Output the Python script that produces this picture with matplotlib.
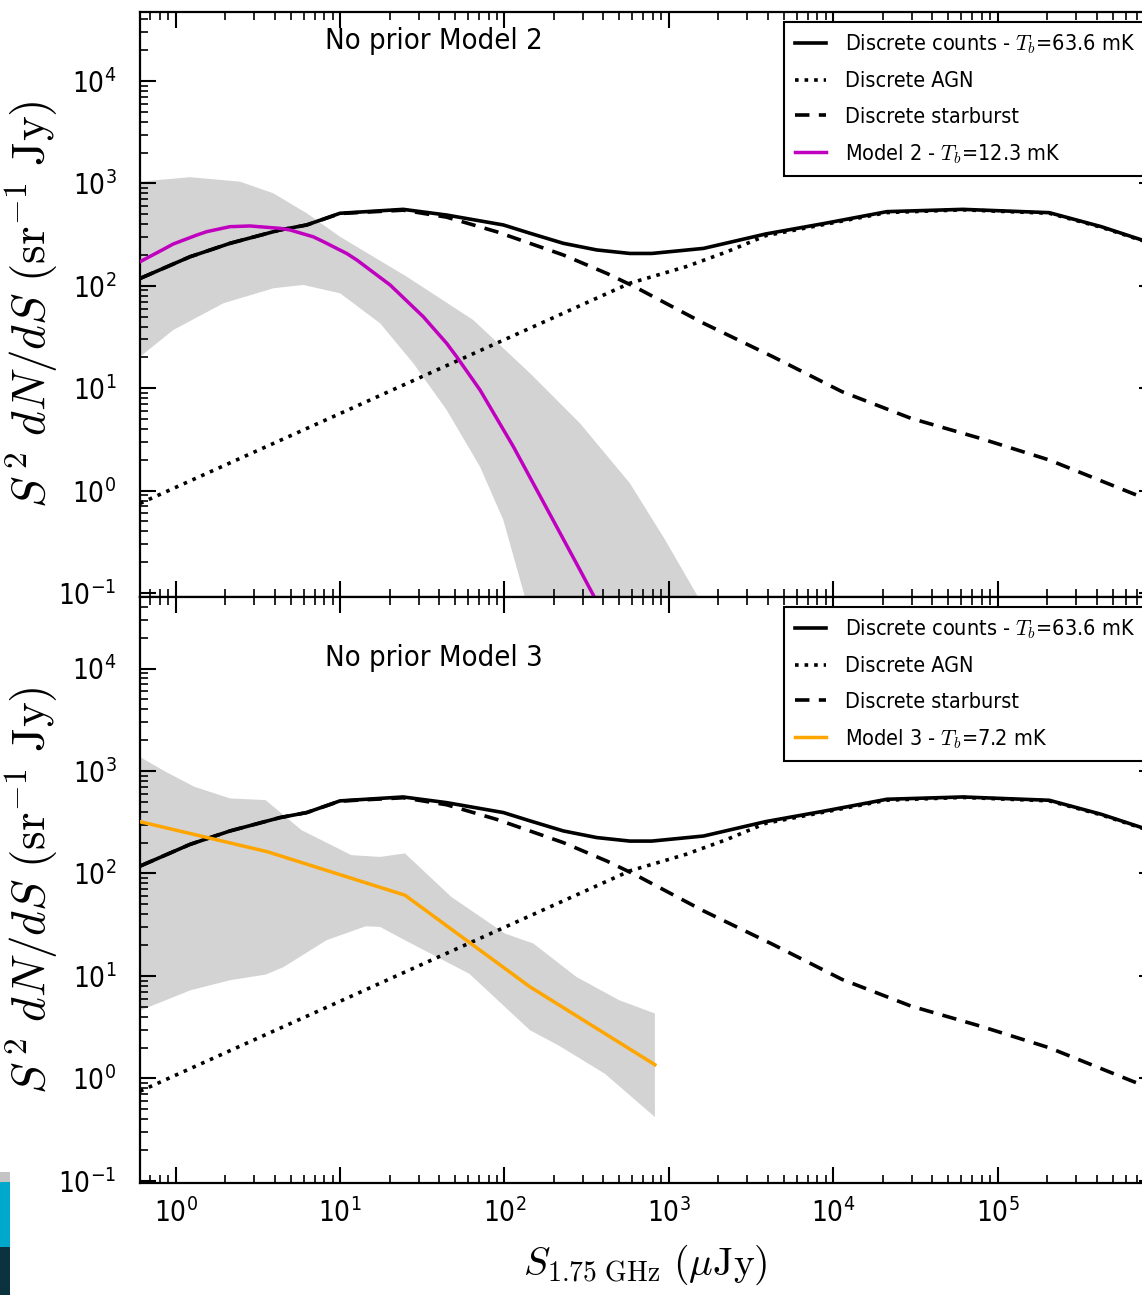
import numpy as np
import matplotlib
matplotlib.use('Agg')
import matplotlib.pyplot as plt
from matplotlib.patches import Rectangle

plt.rcParams['font.family'] = ['DejaVu Sans']
plt.rcParams['font.stretch'] = 'condensed'
plt.rcParams['mathtext.fontset'] = 'cm'
plt.rcParams['axes.unicode_minus'] = False

# ---------------- data ----------------
# Discrete counts (total)
s_counts = [0.607, 1.22, 2.14, 4.31, 6.27, 9.98, 24.2, 44.5, 98.4, 143, 228, 364, 579,
            787, 1626, 3890, 8870, 21200, 61400, 206000, 427000, 755000, 910000]
y_counts = [118, 192, 260, 351, 393, 511, 558, 491, 393, 326, 260, 224, 207,
            207, 232, 321, 407, 530, 558, 518, 378, 280, 255]

# Discrete AGN
s_agn = [0.607, 3.16, 10.0, 31.6, 100, 316, 579, 1275, 2240, 3890, 8870, 21200, 61400,
         206000, 427000, 755000, 910000]
y_agn = [0.75, 2.47, 5.66, 13.0, 29.8, 68.4, 106, 154, 214, 309, 398, 519, 552,
         511, 373, 277, 251]

# Discrete starburst
s_sb = [0.607, 1.22, 2.14, 4.31, 6.27, 9.98, 24.2, 44.5, 89.7, 228, 420, 618, 1630,
        4290, 11300, 29700, 78300, 206000, 659000, 910000]
y_sb = [118, 192, 260, 351, 393, 508, 548, 468, 337, 200, 132, 98, 43,
        20.3, 9.25, 5.08, 3.24, 1.99, 0.94, 0.77]

# Model 2 (no prior) and its uncertainty band
s_m2 = [0.607, 0.841, 0.966, 1.343, 1.545, 2.138, 2.831, 4.305, 4.955, 6.87, 7.907,
        10.96, 12.62, 20.14, 32.06, 44.5, 51.17, 71.0, 113.2, 180.7, 287.7, 352, 398]
y_m2 = [172, 227, 256, 313, 338, 378, 384, 364, 351, 301, 270,
        207, 179, 102, 49.9, 27.4, 20.3, 9.6, 2.69, 0.671, 0.168, 0.0914, 0.063]
s_m2_hi = [0.607, 1.22, 2.46, 3.93, 6.27, 10.0, 25.4, 64.6, 143, 288, 579,
           948, 1507, 1778]
y_m2_hi = [1040, 1150, 1040, 800, 511, 301, 123, 46.3, 14.0, 4.54, 1.18,
           0.331, 0.0912, 0.05]
s_m2_lo = [0.607, 0.966, 1.95, 3.93, 5.97, 10.0, 17.5, 27.9, 44.5, 71.0, 98.4, 133, 158]
y_m2_lo = [20.3, 37.0, 67.5, 94.6, 102, 84.5, 43.1, 17.5, 6.12, 1.71, 0.516, 0.092, 0.05]

# Model 3 (no prior) and its uncertainty band
s_m3 = [0.612, 3.61, 24.8, 143, 822]
y_m3 = [319, 163, 61.4, 7.82, 1.36]
s_m3_hi = [0.612, 0.869, 1.30, 2.14, 3.52, 5.82, 11.7, 17.5, 24.8, 47.5, 100.7, 150,
           274, 499, 822]
y_m3_hi = [1358, 982, 701, 540, 520, 265, 151, 145, 157, 59.0, 25.9, 20.7,
           9.77, 5.79, 4.30]
s_m3_lo = [0.612, 0.869, 1.23, 2.14, 3.52, 4.53, 8.26, 14.3, 17.5, 24.8, 61.1, 143,
           213, 408, 822]
y_m3_lo = [4.62, 5.79, 7.24, 9.08, 10.3, 12.2, 22.3, 30.5, 30.1, 22.3, 10.5, 2.95,
           2.10, 1.11, 0.42]

x_major = [1e0, 1e1, 1e2, 1e3, 1e4, 1e5]
y_major = [1e-1, 1e0, 1e1, 1e2, 1e3, 1e4]

panel_titles = ["No prior Model 2", "No prior Model 3"]
lbl_counts = r"Discrete counts - $T_b$=63.6 mK"
lbl_agn = "Discrete AGN"
lbl_sb = "Discrete starburst"
lbl_models = [r"Model 2 - $T_b$=12.3 mK", r"Model 3 - $T_b$=7.2 mK"]
model_colors = ["#bf00bf", "orange"]

# ---------------- figure ----------------
W, H = 1142, 1295
fig = plt.figure(figsize=(W / 100, H / 100), dpi=100)
left = 140 / W
right = 1155 / W
ax1 = fig.add_axes([left, 1 - 597 / H, right - left, 585 / H])
ax2 = fig.add_axes([left, 1 - 1183 / H, right - left, 586 / H])

# corner artefact seen in the reference (left edge, bottom)
for (y0, y1, c) in [(1172, 1182, "#c4c4c4"), (1182, 1247, "#00a8cc"), (1247, 1295, "#0c3240")]:
    fig.patches.append(Rectangle((0, 1 - y1 / H), 10 / W, (y1 - y0) / H,
                                 transform=fig.transFigure, facecolor=c,
                                 edgecolor='none', zorder=0))

bands = [(s_m2_hi, y_m2_hi, s_m2_lo, y_m2_lo), (s_m3_hi, y_m3_hi, s_m3_lo, y_m3_lo)]
models = [(s_m2, y_m2), (s_m3, y_m3)]
ylims = [(0.0914, 4.72e4), (0.0953, 4.99e4)]
title_y = [0.950, 0.896]

for i, ax in enumerate([ax1, ax2]):
    sh, yh, sl, yl = bands[i]
    ax.fill(list(sh) + list(sl)[::-1], list(yh) + list(yl)[::-1],
            color='lightgray', lw=0, zorder=1)
    ax.plot(s_counts, y_counts, '-', color='k', lw=2.6, label=lbl_counts, zorder=3)
    ax.plot(s_agn, y_agn, ':', color='k', lw=2.6, label=lbl_agn, zorder=3)
    ax.plot(s_sb, y_sb, color='k', lw=2.6, ls=(0, (4, 2.6)), label=lbl_sb, zorder=3)
    ax.plot(models[i][0], models[i][1], '-', color=model_colors[i], lw=2.5,
            label=lbl_models[i], zorder=4)
    ax.set_xscale('log')
    ax.set_yscale('log')
    ax.set_xticks(x_major)
    ax.set_yticks(y_major)
    ax.set_xlim(0.6064, 9.06e5)
    ax.set_ylim(*ylims[i])
    for sp in ax.spines.values():
        sp.set_linewidth(1.6)
    ax.tick_params(which='major', direction='in', length=11.5, width=1.5,
                   top=True, right=True, labelsize=20, pad=11)
    ax.tick_params(which='minor', direction='in', length=5.5, width=1.2,
                   top=True, right=True)
    ax.tick_params(axis='y', which='major', pad=17)
    ax.text(0.182, title_y[i], panel_titles[i], transform=ax.transAxes,
            ha='left', va='center', fontsize=21)
    leg = ax.legend(loc='upper right', fontsize=15.5, frameon=True, fancybox=False,
                    framealpha=1, edgecolor='k', handlelength=1.44,
                    handletextpad=0.88, labelspacing=0.71, borderpad=0.5,
                    borderaxespad=0.45)
    leg.get_frame().set_linewidth(1.5)
    ax.set_ylabel(r"$S^{\,2}\ dN/dS\ (\mathrm{sr}^{-1}\ \mathrm{Jy})$", fontsize=34)
    ax.yaxis.set_label_coords(-0.079, 0.5)

ax1.tick_params(axis='x', which='both', labelbottom=False)
ax2.set_xlabel(r"$S_{1.75\ \mathrm{GHz}}\ (\mu\mathrm{Jy})$", fontsize=28.5)
ax2.xaxis.label.set_va('center')
ax2.xaxis.set_label_coords(0.4975, -0.14)

fig.savefig('out.png', dpi=100)
